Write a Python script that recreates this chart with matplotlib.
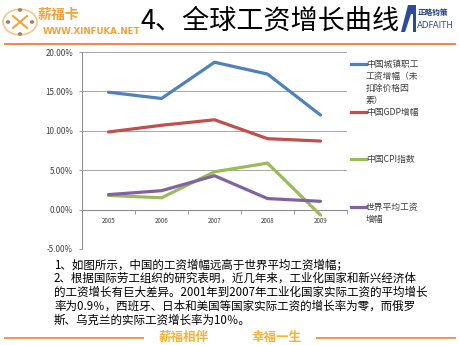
import matplotlib
matplotlib.use('Agg')
import matplotlib.pyplot as plt
from matplotlib.patches import Circle, Polygon
from matplotlib.lines import Line2D
from matplotlib.ticker import FuncFormatter, FixedLocator

plt.rcParams['font.family'] = ['Noto Sans CJK SC', 'DejaVu Sans']

# data (percent)
years = ['2005', '2006', '2007', '2008', '2009']
wage_cn = [14.9, 14.1, 18.7, 17.2, 12.0]
gdp_cn = [9.85, 10.7, 11.4, 9.0, 8.7]
cpi_cn = [1.8, 1.5, 4.8, 5.9, -0.7]
wage_world = [1.9, 2.4, 4.3, 1.4, 1.05]

series_names = ['中国城镇职工\n工资增幅（未\n扣除价格因\n素）', '中国GDP增幅', '中国CPI指数', '世界平均工资\n增幅']
colors = ['#4F81BD', '#C0504D', '#9BBB59', '#8064A2']

notes = [
    '1、如图所示，中国的工资增幅远高于世界平均工资增幅；',
    '2、根据国际劳工组织的研究表明，近几年来，工业化国家和新兴经济体',
    '的工资增长有巨大差异。2001年到2007年工业化国家实际工资的平均增长',
    '率为0.9％，西班牙、日本和美国等国家实际工资的增长率为零，而俄罗',
    '斯、乌克兰的实际工资增长率为10％。',
]

W, H = 459, 345
fig = plt.figure(figsize=(W / 100, H / 100), dpi=100)
fig.patch.set_facecolor('white')


def fx(px):
    return px / W


def fy(py):
    return 1 - py / H


# header
orange = '#F2A33A'
fig.add_artist(Circle((fx(20), fy(22)), 17 / W, transform=fig.transFigure,
                      fill=False, ec='#F6C58A', lw=1.2))
fig.add_artist(Line2D([fx(13), fx(27)], [fy(16), fy(28)], transform=fig.transFigure, color=orange, lw=1.5))
fig.add_artist(Line2D([fx(13), fx(27)], [fy(28), fy(16)], transform=fig.transFigure, color=orange, lw=1.5))
for dx, dy in [(8, 22), (32, 22), (20, 10), (20, 34)]:
    fig.add_artist(Circle((fx(dx), fy(dy)), 1.5 / W, transform=fig.transFigure, color='#A08060'))
fig.text(fx(38), fy(15), '薪福卡', color=orange, fontsize=10, fontweight='bold', va='center', ha='left')
fig.text(fx(43), fy(31), 'WWW.XINFUKA.NET', color=orange, fontsize=6.3, fontweight='bold',
         va='center', ha='left', family=['DejaVu Sans'])
fig.text(fx(270), fy(21), '4、全球工资增长曲线', fontsize=19.5, fontweight='light',
         va='center', ha='center', color='black')

# right logo: blue slanted A block
fig.add_artist(Polygon([(fx(401), fy(32)), (fx(408), fy(5)), (fx(416), fy(5)), (fx(416), fy(32))],
                       closed=True, transform=fig.transFigure, color='#2A4C9A', ec='none'))
fig.add_artist(Polygon([(fx(405), fy(32)), (fx(411), fy(14)), (fx(413), fy(14)), (fx(413), fy(32))],
                       closed=True, transform=fig.transFigure, color='white', ec='none'))
fig.text(fx(418), fy(13), '正略钧策', color='#1F3C88', fontsize=5.5, fontweight='bold', va='center', ha='left')
fig.text(fx(417), fy(26), 'ADFAITH', color='#2A4C9A', fontsize=6.2, va='center', ha='left',
         family=['DejaVu Sans'])
fig.add_artist(Line2D([fx(5), fx(455)], [fy(44), fy(44)], transform=fig.transFigure,
                      color='#EE8A3C', lw=1.4))

# chart
ax = fig.add_axes([fx(82), fy(249), fx(347) - fx(82), (249 - 52) / H])
x = list(range(len(years)))
for vals, c in zip([wage_cn, gdp_cn, cpi_cn, wage_world], colors):
    ax.plot(x, vals, color=c, lw=2.3, solid_capstyle='round', zorder=3)

ax.set_xlim(-0.5, len(years) - 0.5)
ax.set_ylim(-5, 20)
ax.set_yticks([-5, 0, 5, 10, 15, 20])
ax.yaxis.set_major_formatter(FuncFormatter(lambda v, p: f'{v:.2f}%'))
ax.grid(axis='y', color='#A6A6A6', lw=0.7)
ax.set_axisbelow(True)

for s in ['top', 'right']:
    ax.spines[s].set_visible(False)
ax.spines['left'].set_color('#8C8C8C')
ax.spines['left'].set_linewidth(0.7)
ax.spines['bottom'].set_position(('data', 0))
ax.spines['bottom'].set_color('#8C8C8C')
ax.spines['bottom'].set_linewidth(0.8)

ax.set_xticks(x)
ax.set_xticklabels(years)
ax.xaxis.set_minor_locator(FixedLocator([i - 0.5 for i in range(len(years) + 1)]))
ax.tick_params(axis='x', which='major', length=0, labelsize=4.5, pad=5, colors='#404040')
ax.tick_params(axis='x', which='minor', length=3, width=0.6, color='#8C8C8C', direction='out')
ax.tick_params(axis='y', length=2.5, width=0.6, color='#8C8C8C', labelsize=5.8,
               labelcolor='#404040', pad=4)

# legend
leg_y = [64, 112, 159, 207]
for name, c, yy in zip(series_names, colors, leg_y):
    fig.add_artist(Line2D([fx(351), fx(366)], [fy(yy), fy(yy)], transform=fig.transFigure,
                          color=c, lw=2.3))
    fig.text(fx(366), fy(yy - 4), name, fontsize=6.3, color='#404040', va='top', ha='left',
             linespacing=1.45)

# notes
for i, line in enumerate(notes):
    fig.text(fx(54), fy(265 + i * 13.7), line, fontsize=8.3, color='black', va='center', ha='left')

# footer
fig.add_artist(Line2D([fx(5), fx(143)], [fy(338), fy(338)], transform=fig.transFigure,
                      color='#EE9A45', lw=1.4))
fig.add_artist(Line2D([fx(317), fx(455)], [fy(338), fy(338)], transform=fig.transFigure,
                      color='#EE9A45', lw=1.4))
fig.text(fx(184), fy(337), '薪福相伴', color='#F5B335', fontsize=9, fontweight='bold', va='center', ha='center')
fig.text(fx(276), fy(337), '幸福一生', color='#F5B335', fontsize=9, fontweight='bold', va='center', ha='center')

fig.savefig('out.png', dpi=100)
